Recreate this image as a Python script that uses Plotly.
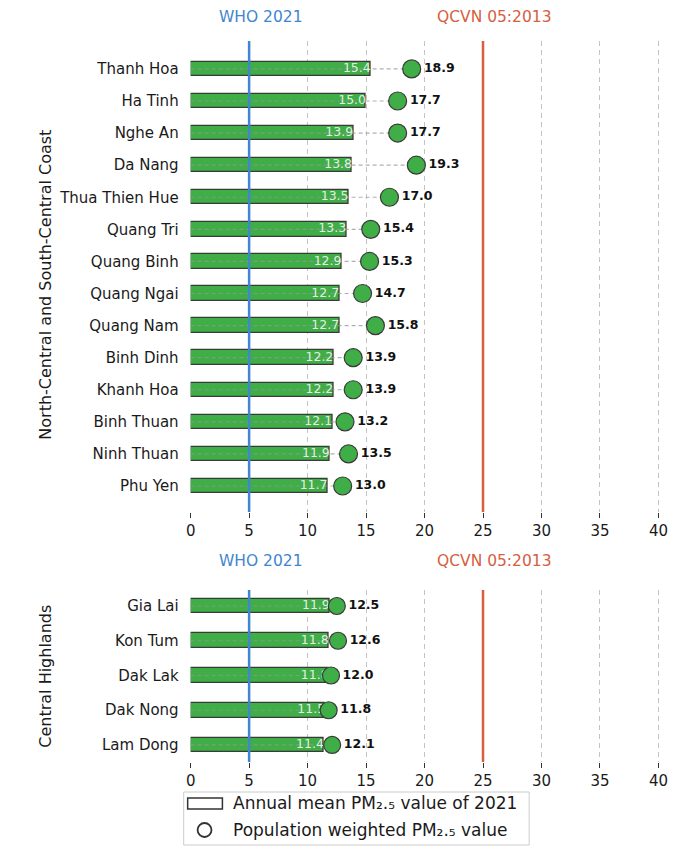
import plotly.graph_objects as go

# ---- data ----
top_regions = ["Thanh Hoa", "Ha Tinh", "Nghe An", "Da Nang", "Thua Thien Hue", "Quang Tri",
               "Quang Binh", "Quang Ngai", "Quang Nam", "Binh Dinh", "Khanh Hoa",
               "Binh Thuan", "Ninh Thuan", "Phu Yen"]
top_annual = [15.4, 15.0, 13.9, 13.8, 13.5, 13.3, 12.9, 12.7, 12.7, 12.2, 12.2, 12.1, 11.9, 11.7]
top_weighted = [18.9, 17.7, 17.7, 19.3, 17.0, 15.4, 15.3, 14.7, 15.8, 13.9, 13.9, 13.2, 13.5, 13.0]

bot_regions = ["Gia Lai", "Kon Tum", "Dak Lak", "Dak Nong", "Lam Dong"]
bot_annual = [11.9, 11.8, 11.8, 11.5, 11.4]
bot_weighted = [12.5, 12.6, 12.0, 11.8, 12.1]

group_titles = ["North-Central and South-Central Coast", "Central Highlands"]
x_ticks = [0, 5, 10, 15, 20, 25, 30, 35, 40]
who_limit = 5
qcvn_limit = 25
legend_labels = ["Annual mean PM₂.₅ value of 2021", "Population weighted PM₂.₅ value"]

# ---- style ----
W, H = 689, 847
GREEN = "#3fae46"
EDGE = "#3a3a3a"
BLUE = "#3f86cf"
RED = "#d4603f"
FONT = "DejaVu Sans"

x_left, x_right = 187 / W, 670 / W
top_dom = [1 - 512 / H, 1 - 41 / H]
bot_dom = [1 - 762 / H, 1 - 590 / H]

fig = go.Figure()


def add_panel(regions, annual, weighted, xa, ya, msize, bwidth):
    pos = list(range(len(regions)))
    lx, ly = [], []
    for p, w in zip(pos, weighted):
        lx += [0, w, None]
        ly += [p, p, None]
    fig.add_trace(go.Bar(
        x=annual, y=pos, orientation="h", width=bwidth,
        marker=dict(color=GREEN, line=dict(color=EDGE, width=1.3)),
        xaxis=xa, yaxis=ya, showlegend=False, hoverinfo="skip"))
    fig.add_trace(go.Scatter(
        x=lx, y=ly, mode="lines",
        line=dict(color="rgba(150,150,150,0.75)", width=1.2, dash="4px,3px"),
        xaxis=xa, yaxis=ya, showlegend=False, hoverinfo="skip"))
    fig.add_trace(go.Scatter(
        x=annual, y=pos, mode="text",
        text=[f"{v:.1f}" for v in annual], textposition="middle left",
        textfont=dict(family=FONT, size=12.5, color="rgba(255,255,255,0.85)"),
        cliponaxis=False,
        xaxis=xa, yaxis=ya, showlegend=False, hoverinfo="skip"))
    fig.add_trace(go.Scatter(
        x=weighted, y=pos, mode="markers+text",
        marker=dict(size=msize, color=GREEN, line=dict(color=EDGE, width=1.2)),
        text=[f"<b>{v:.1f}</b>" for v in weighted], textposition="middle right",
        textfont=dict(family=FONT, size=12.5, color="#111"),
        cliponaxis=False,
        xaxis=xa, yaxis=ya, showlegend=False, hoverinfo="skip"))


add_panel(top_regions, top_annual, top_weighted, "x", "y", 18, 0.45)
add_panel(bot_regions, bot_annual, bot_weighted, "x2", "y2", 17, 0.42)

xcommon = dict(range=[0, 41], tickvals=x_ticks, showgrid=True, griddash="5px,4px",
               gridcolor="#c4c4c4", gridwidth=1, zeroline=False, showline=False,
               ticks="outside", ticklen=5, tickcolor="#333", tickwidth=1.3,
               tickfont=dict(family=FONT, size=15, color="#1a1a1a"),
               domain=[x_left, x_right], fixedrange=True)

fig.update_layout(
    width=W, height=H, margin=dict(l=0, r=0, t=0, b=0),
    paper_bgcolor="white", plot_bgcolor="white", showlegend=False,
    bargap=0,
    xaxis=dict(**xcommon, anchor="y"),
    xaxis2=dict(**xcommon, anchor="y2"),
    yaxis=dict(domain=top_dom, range=[13.81, -0.87], tickvals=list(range(len(top_regions))),
               ticktext=top_regions, showgrid=False, zeroline=False, showline=False,
               ticks="", ticklabelstandoff=11,
               tickfont=dict(family=FONT, size=15, color="#1a1a1a"), anchor="x"),
    yaxis2=dict(domain=bot_dom, range=[4.49, -0.46], tickvals=list(range(len(bot_regions))),
                ticktext=bot_regions, showgrid=False, zeroline=False, showline=False,
                ticks="", ticklabelstandoff=11,
                tickfont=dict(family=FONT, size=15, color="#1a1a1a"), anchor="x2"),
)

shapes = []
annotations = []
for xa, ya, label_y in [("x", "y", 17), ("x2", "y2", 561)]:
    for val, col, txt in [(who_limit, BLUE, "WHO 2021"), (qcvn_limit, RED, "QCVN 05:2013")]:
        shapes.append(dict(type="line", xref=xa, yref=f"{ya} domain", x0=val, x1=val, y0=0, y1=1,
                           line=dict(color=col, width=2.5), layer="above"))
        annotations.append(dict(xref=xa, yref="paper", x=val + 1, y=1 - label_y / H, text=txt,
                                showarrow=False, xanchor="center", yanchor="middle",
                                font=dict(family=FONT, size=15.5, color=col)))

# group titles
annotations.append(dict(xref="paper", yref="paper", x=40 / W, y=1 - 285 / H, text=group_titles[0],
                        textangle=-90, showarrow=False, xanchor="center", yanchor="middle",
                        font=dict(family=FONT, size=16, color="#1a1a1a")))
annotations.append(dict(xref="paper", yref="paper", x=40 / W, y=1 - 676 / H, text=group_titles[1],
                        textangle=-90, showarrow=False, xanchor="center", yanchor="middle",
                        font=dict(family=FONT, size=16, color="#1a1a1a")))

# legend box (manual)
shapes.append(dict(type="rect", xref="paper", yref="paper", x0=180 / W, x1=528 / W,
                   y0=1 - 845 / H, y1=1 - 792 / H, line=dict(color="#cccccc", width=1),
                   fillcolor="white"))
shapes.append(dict(type="rect", xref="paper", yref="paper", x0=184 / W, x1=219 / W,
                   y0=1 - 809 / H, y1=1 - 798 / H, line=dict(color="#333", width=1.5),
                   fillcolor="white"))
shapes.append(dict(type="circle", xref="paper", yref="paper", x0=194 / W, x1=208 / W,
                   y0=1 - 837 / H, y1=1 - 823 / H, line=dict(color="#333", width=1.8),
                   fillcolor="white"))
annotations.append(dict(xref="paper", yref="paper", x=228 / W, y=1 - 803 / H, text=legend_labels[0],
                        showarrow=False, xanchor="left", yanchor="middle",
                        font=dict(family=FONT, size=17, color="#1a1a1a")))
annotations.append(dict(xref="paper", yref="paper", x=228 / W, y=1 - 830 / H, text=legend_labels[1],
                        showarrow=False, xanchor="left", yanchor="middle",
                        font=dict(family=FONT, size=17, color="#1a1a1a")))

fig.update_layout(shapes=shapes, annotations=annotations)
fig.write_html("out.html")
